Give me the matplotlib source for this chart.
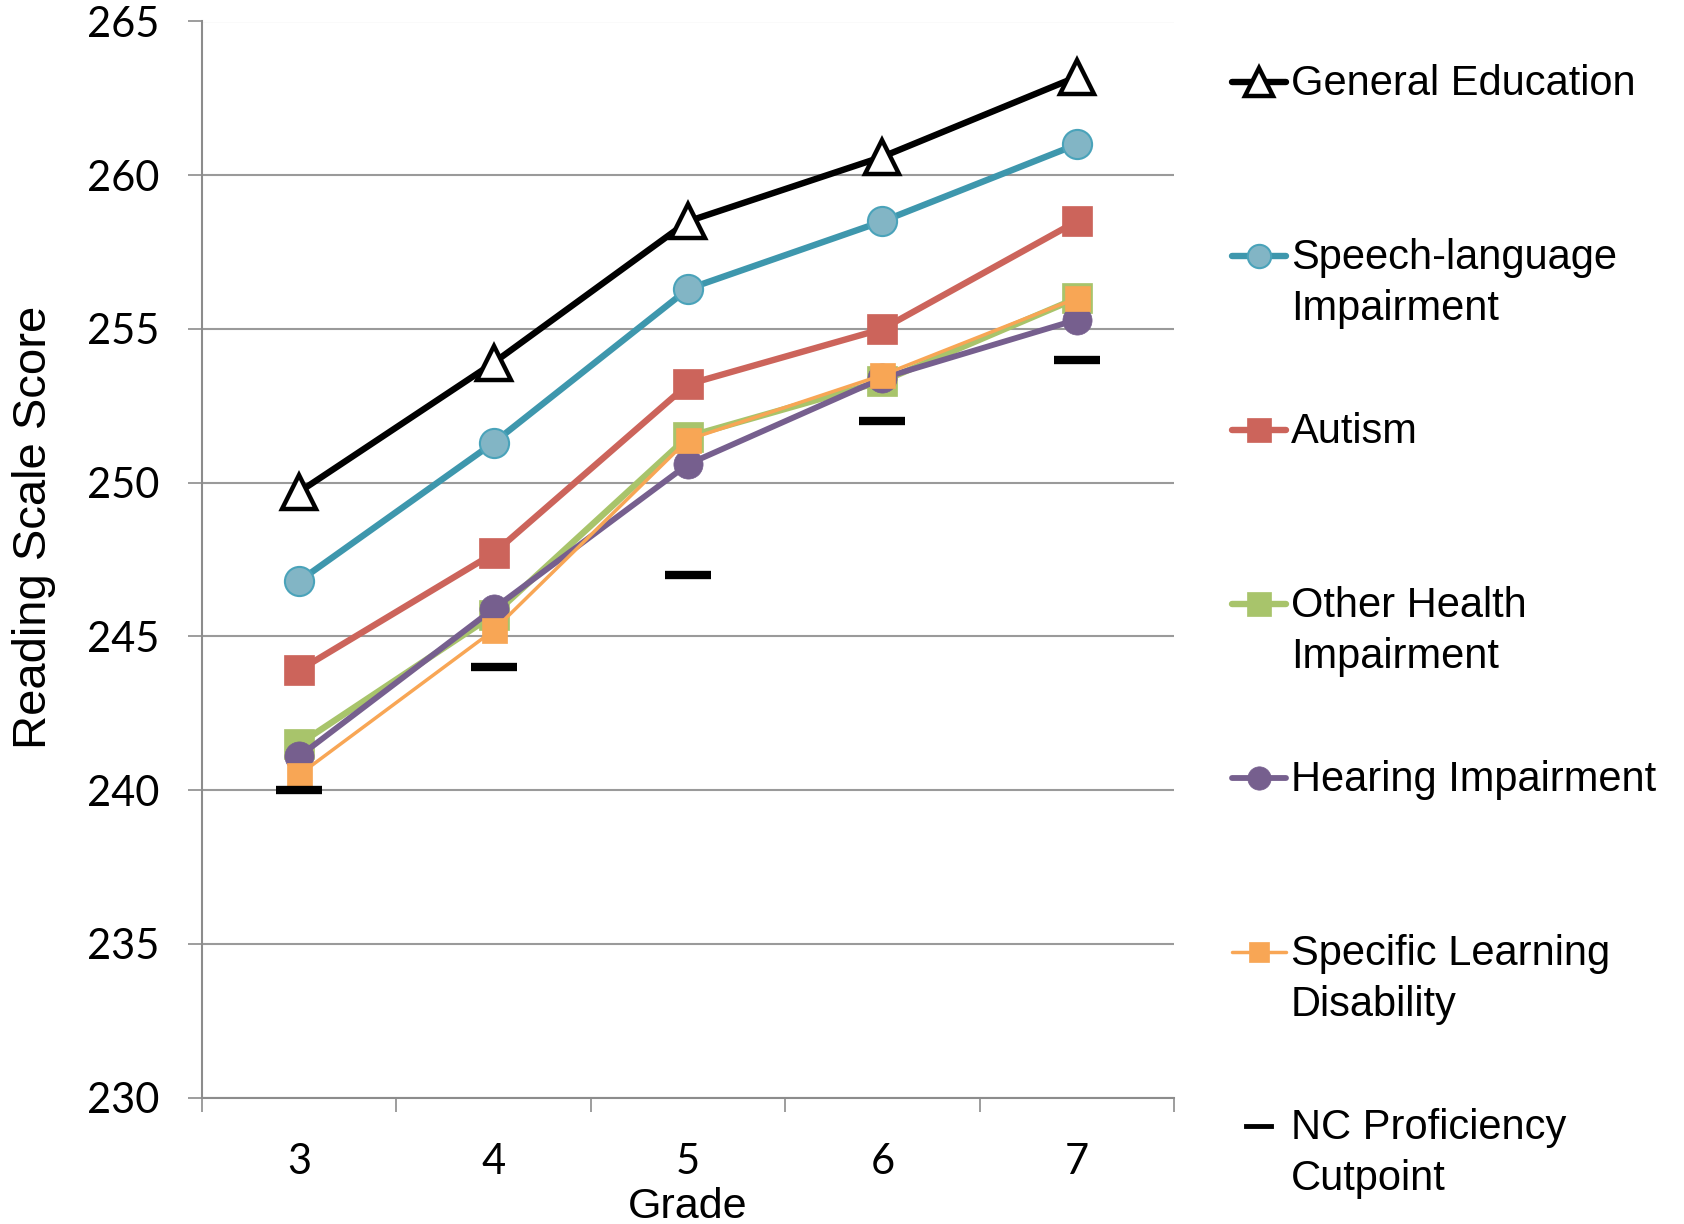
import matplotlib
matplotlib.use("Agg")
import matplotlib.pyplot as plt
import numpy as np

# grades along the x axis
grades = ["3", "4", "5", "6", "7"]

# mean reading scale scores per group
general_ed = [249.7, 253.9, 258.5, 260.6, 263.2]
speech_lang = [246.8, 251.3, 256.3, 258.5, 261.0]
autism = [243.9, 247.7, 253.2, 255.0, 258.5]
other_health = [241.5, 245.7, 251.5, 253.3, 256.0]
hearing = [241.1, 245.9, 250.6, 253.4, 255.3]
learning_dis = [240.5, 245.2, 251.4, 253.5, 256.0]
nc_cutpoint = [240, 244, 247, 252, 254]

y_ticks = [230, 235, 240, 245, 250, 255, 260, 265]

W, H = 1684, 1224
fig = plt.figure(figsize=(W / 100, H / 100), dpi=100)
ax = fig.add_axes([202 / W, 1 - 1097.6 / H, (1174 - 202) / W, (1097.6 - 21.5) / H])

x = np.arange(len(grades))

# (values, label, line colour, line width, marker, size, face, edge, edge width)
series = [
    (general_ed, "General Education", "black", 4.6, "^", 25, "white", "black", 3.2),
    (speech_lang, "Speech-language\nImpairment", "#3e97ad", 4.6, "o", 21, "#82b5c5", "#4aa3ba", 1.5),
    (autism, "Autism", "#cc645b", 4.6, "s", 22, "#cc645b", "#cc645b", 0.5),
    (other_health, "Other Health\nImpairment", "#a8c46b", 4.6, "s", 22, "#a8c46b", "#a8c46b", 0.5),
    (hearing, "Hearing Impairment", "#765f8e", 4.2, "o", 21, "#765f8e", "#765f8e", 0.5),
    (learning_dis, "Specific Learning\nDisability", "#f8a655", 2.5, "s", 18, "#f8a655", "#f8a655", 0.5),
]

for vals, label, color, lw, mk, ms, fc, ec, mew in series:
    ax.plot(x, vals, color=color, lw=lw, marker=mk, ms=ms, mfc=fc, mec=ec,
            mew=mew, solid_capstyle="round", solid_joinstyle="round")

ax.plot(x, nc_cutpoint, ls="none", marker="_", ms=33, mew=6, color="black")

ax.set_xlim(-0.5, len(grades) - 0.5)
ax.set_ylim(230, 265)
ax.set_yticks(y_ticks)
ax.set_xticks(x)
ax.set_xticklabels(grades)
ax.set_xticks(np.arange(len(grades) + 1) - 0.5, minor=True)
ax.grid(axis="y", color="#9a9a9a", lw=1.5)
ax.set_axisbelow(True)

for side in ("top", "right"):
    ax.spines[side].set_visible(False)
for side in ("left", "bottom"):
    ax.spines[side].set_color("#8c8c8c")
    ax.spines[side].set_linewidth(1.5)

ax.tick_params(axis="y", length=10, width=1.2, color="#8c8c8c", pad=21)
ax.tick_params(axis="x", which="major", length=0, pad=33)
ax.tick_params(axis="x", which="minor", length=10, width=1.2, color="#8c8c8c")
for lab in ax.get_xticklabels() + ax.get_yticklabels():
    lab.set_fontfamily("Lato")
    lab.set_fontsize(30)

fig.text(34 / W, 1 - 527 / H, "Reading Scale Score", rotation=90,
         ha="center", va="center", family="Liberation Sans", size=34)
fig.text(688 / W, 1 - 1218 / H, "Grade", ha="center", va="baseline",
         family="Liberation Sans", size=31)

# hand-drawn legend on an overlay axes in pixel coordinates
lg = fig.add_axes([0, 0, 1, 1])
lg.set_xlim(0, W)
lg.set_ylim(H, 0)
lg.axis("off")

row_y = [81.6, 255.6, 429.6, 603.6, 777.6, 951.6]
for (vals, label, color, lw, mk, ms, fc, ec, mew), yy in zip(series, row_y):
    lg.plot([1232, 1286], [yy, yy], color=color, lw=lw, solid_capstyle="round")
    lg.plot([1259], [yy], marker=mk, ms=ms * 0.8, mfc=fc, mec=ec, mew=mew, color=color)
    lg.text(1291, yy - 18, label, ha="left", va="top", family="Liberation Sans",
            size=30, linespacing=1.36)

lg.plot([1246, 1271], [1125.6, 1125.6], color="black", lw=3.5)
lg.text(1291, 1125.6 - 18, "NC Proficiency\nCutpoint", ha="left", va="top",
        family="Liberation Sans", size=30, linespacing=1.36)

fig.savefig("out.png", dpi=100)
